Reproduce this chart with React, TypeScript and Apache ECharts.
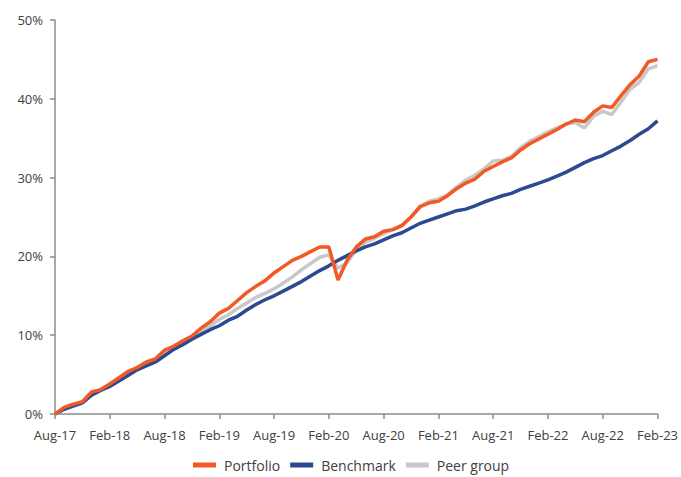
import React, { useEffect, useRef } from "react";
import * as echarts from "echarts";

const categories = [
  "Aug-17","Sep-17","Oct-17","Nov-17","Dec-17","Jan-18",
  "Feb-18","Mar-18","Apr-18","May-18","Jun-18","Jul-18",
  "Aug-18","Sep-18","Oct-18","Nov-18","Dec-18","Jan-19",
  "Feb-19","Mar-19","Apr-19","May-19","Jun-19","Jul-19",
  "Aug-19","Sep-19","Oct-19","Nov-19","Dec-19","Jan-20",
  "Feb-20","Mar-20","Apr-20","May-20","Jun-20","Jul-20",
  "Aug-20","Sep-20","Oct-20","Nov-20","Dec-20","Jan-21",
  "Feb-21","Mar-21","Apr-21","May-21","Jun-21","Jul-21",
  "Aug-21","Sep-21","Oct-21","Nov-21","Dec-21","Jan-22",
  "Feb-22","Mar-22","Apr-22","May-22","Jun-22","Jul-22",
  "Aug-22","Sep-22","Oct-22","Nov-22","Dec-22","Jan-23",
  "Feb-23",
];

const portfolio = [
  0, 0.85, 1.25, 1.55, 2.8, 3.1,
  3.8, 4.6, 5.4, 5.9, 6.6, 7.0,
  8.1, 8.6, 9.3, 9.9, 10.9, 11.7,
  12.8, 13.4, 14.4, 15.4, 16.2, 16.9,
  17.9, 18.7, 19.5, 20.0, 20.6, 21.2,
  21.2, 17.0, 19.5, 21.2, 22.2, 22.5,
  23.2, 23.4, 23.9, 25.0, 26.3, 26.8,
  27.0, 27.7, 28.6, 29.3, 29.8, 30.8,
  31.4, 32.0, 32.5, 33.5, 34.3, 34.9,
  35.5, 36.1, 36.8, 37.3, 37.1, 38.3,
  39.1, 38.9, 40.4, 41.8, 42.9, 44.7,
  45.0,
];

const benchmark = [
  0, 0.6, 1.0, 1.4, 2.4, 3.0,
  3.5, 4.2, 4.9, 5.6, 6.1, 6.6,
  7.4, 8.2, 8.8, 9.5, 10.1, 10.7,
  11.2, 11.9, 12.4, 13.2, 13.9, 14.5,
  15.0, 15.6, 16.2, 16.8, 17.5, 18.2,
  18.8, 19.5, 20.1, 20.7, 21.2, 21.6,
  22.1, 22.6, 23.0, 23.6, 24.2, 24.6,
  25.0, 25.4, 25.8, 26.0, 26.4, 26.9,
  27.3, 27.7, 28.0, 28.5, 28.9, 29.3,
  29.7, 30.2, 30.7, 31.3, 31.9, 32.4,
  32.8, 33.4, 34.0, 34.7, 35.5, 36.2,
  37.2,
];

const peerGroup = [
  0, 0.7, 1.1, 1.5, 2.6, 3.0,
  3.7, 4.5, 5.2, 5.8, 6.4, 6.9,
  7.8, 8.4, 9.0, 9.6, 10.5, 11.2,
  12.0, 12.6, 13.4, 14.1, 14.8, 15.3,
  15.9, 16.6, 17.4, 18.3, 19.1, 19.9,
  20.2, 18.5, 19.2, 20.9, 21.8, 22.3,
  22.9, 23.4, 24.0, 25.0, 26.4, 27.0,
  27.3, 27.8, 28.8, 29.7, 30.3, 31.1,
  32.1, 32.2, 32.7, 33.8, 34.6, 35.2,
  35.8, 36.3, 36.8, 37.0, 36.3, 37.8,
  38.4, 38.0, 39.6, 41.2, 42.1, 43.8,
  44.2,
];

const seriesNames = ["Portfolio", "Benchmark", "Peer group"];
const colors = ["#F15A24", "#2B4A90", "#C8C8C8"];

export default function App() {
  const ref = useRef<HTMLDivElement>(null);
  useEffect(() => {
    if (!ref.current) return;
    const chart = echarts.init(ref.current, undefined, { renderer: "svg" });
    const font = "'Open Sans', sans-serif";
    const axisColor = "#8C8C8C";
    chart.setOption({
      animation: false,
      textStyle: { fontFamily: font },
      grid: { left: 55, right: 23, top: 20, bottom: 63 },
      legend: {
        bottom: 0,
        left: 188,
        itemWidth: 23,
        itemHeight: 5,
        itemGap: 10,
        icon: "rect",
        textStyle: { fontFamily: font, fontSize: 14, color: "#404040", padding: [0, 0, 0, 3] },
        data: seriesNames,
      },
      xAxis: {
        type: "category",
        data: categories,
        boundaryGap: false,
        axisLine: { lineStyle: { color: axisColor, width: 1.5 } },
        axisTick: { interval: 5, length: 5, lineStyle: { color: axisColor, width: 1.5 } },
        axisLabel: {
          interval: 5,
          margin: 14,
          fontSize: 13,
          fontFamily: font,
          color: "#404040",
        },
        splitLine: { show: false },
      },
      yAxis: {
        type: "value",
        min: 0,
        max: 50,
        interval: 10,
        axisLine: { show: true, lineStyle: { color: axisColor, width: 1.5 } },
        axisTick: { show: true, length: 5, lineStyle: { color: axisColor, width: 1.5 } },
        axisLabel: {
          formatter: "{value}%",
          margin: 12,
          fontSize: 13,
          fontFamily: font,
          color: "#404040",
        },
        splitLine: { show: false },
      },
      series: [
        {
          name: seriesNames[0],
          type: "line",
          data: portfolio,
          z: 4,
          symbol: "none",
          lineStyle: { color: colors[0], width: 3.5 },
          itemStyle: { color: colors[0] },
        },
        {
          name: seriesNames[1],
          type: "line",
          data: benchmark,
          z: 3,
          symbol: "none",
          lineStyle: { color: colors[1], width: 3.5 },
          itemStyle: { color: colors[1] },
        },
        {
          name: seriesNames[2],
          type: "line",
          data: peerGroup,
          z: 2,
          symbol: "none",
          lineStyle: { color: colors[2], width: 3.5 },
          itemStyle: { color: colors[2] },
        },
      ],
    });
    return () => chart.dispose();
  }, []);
  return (
    <div
      ref={ref}
      style={{ position: "fixed", left: 0, top: 0, width: 681, height: 477, background: "#fff" }}
    />
  );
}
